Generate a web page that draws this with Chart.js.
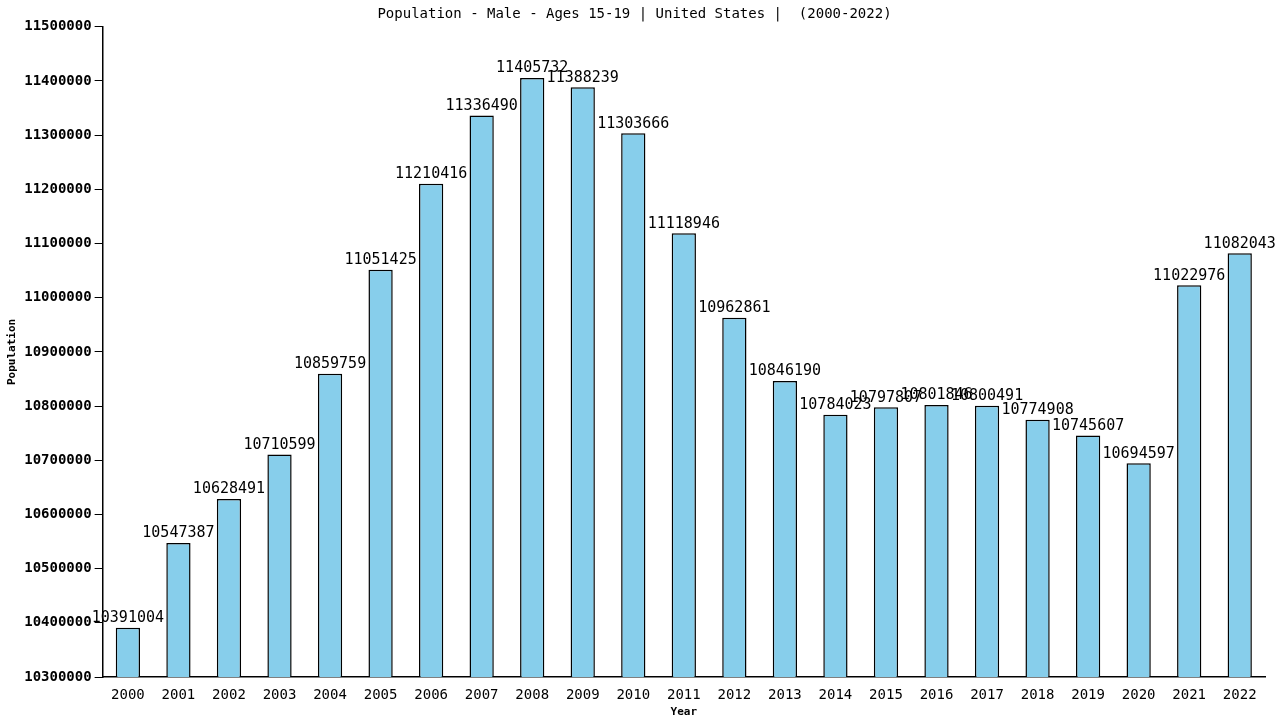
<!DOCTYPE html>
<html>
<head>
<meta charset="utf-8">
<script src="https://cdn.jsdelivr.net/npm/chart.js@4/dist/chart.umd.min.js"></script>
<style>
  html, body { margin: 0; padding: 0; background: #fff; }
  #wrap { width: 1280px; height: 720px; position: relative; }
</style>
</head>
<body>
<div id="wrap"><canvas id="chart"></canvas></div>
<script>
// data
const years = ['2000','2001','2002','2003','2004','2005','2006','2007','2008','2009','2010','2011',
               '2012','2013','2014','2015','2016','2017','2018','2019','2020','2021','2022'];
const population = [10391004, 10547387, 10628491, 10710599, 10859759, 11051425, 11210416, 11336490,
                    11405732, 11388239, 11303666, 11118946, 10962861, 10846190, 10784023, 10797807,
                    10801846, 10800491, 10774908, 10745607, 10694597, 11022976, 11082043];
const yMin = 10300000;
const yMax = 11500000;

const FONT = '"DejaVu Sans Mono", "Liberation Mono", monospace';

// value labels above each bar
const barLabels = {
    id: 'barLabels',
    afterDatasetsDraw(chart) {
        const ctx = chart.ctx;
        const meta = chart.getDatasetMeta(0);
        ctx.save();
        ctx.font = '15px ' + FONT;
        ctx.fillStyle = '#000';
        ctx.textAlign = 'center';
        ctx.textBaseline = 'bottom';
        meta.data.forEach((bar, i) => {
            ctx.fillText(String(population[i]), bar.x, bar.y - 2);
        });
        ctx.restore();
    }
};

new Chart(document.getElementById('chart'), {
    type: 'bar',
    data: {
        labels: years,
        datasets: [{
            label: 'Population',
            data: population,
            backgroundColor: '#87ceeb',
            borderColor: '#000',
            borderWidth: 1.5,
            barPercentage: 0.48,
            categoryPercentage: 1.0
        }]
    },
    options: {
        responsive: true,
        maintainAspectRatio: false,
        animation: false,
        layout: { padding: { left: 4, right: 15, top: 4, bottom: 1 } },
        plugins: {
            legend: { display: false },
            tooltip: { enabled: false },
            title: {
                display: true,
                text: 'Population - Male - Ages 15-19 | United States |  (2000-2022)',
                color: '#000',
                font: { family: FONT, size: 14, weight: 'normal' },
                padding: { top: 2, bottom: 4 }
            }
        },
        scales: {
            x: {
                grid: { display: false },
                border: { display: true, color: '#000', width: 1.5 },
                ticks: { color: '#000', font: { family: FONT, size: 14 }, maxRotation: 0, autoSkip: false, padding: 2 },
                title: { display: true, text: 'Year', color: '#000', font: { family: FONT, size: 11, weight: 'bold' }, padding: 0 }
            },
            y: {
                min: yMin,
                max: yMax,
                grid: { drawOnChartArea: false, drawTicks: true, tickLength: 8, color: '#000' },
                border: { display: true, color: '#000', width: 1.5 },
                ticks: {
                    stepSize: 100000, color: '#000', padding: 3,
                    font: { family: FONT, size: 14, weight: 'bold' },
                    callback: (v) => String(v)
                },
                title: { display: true, text: 'Population', color: '#000', font: { family: FONT, size: 11, weight: 'bold' }, padding: 2 }
            }
        }
    },
    plugins: [barLabels]
});
</script>
</body>
</html>
